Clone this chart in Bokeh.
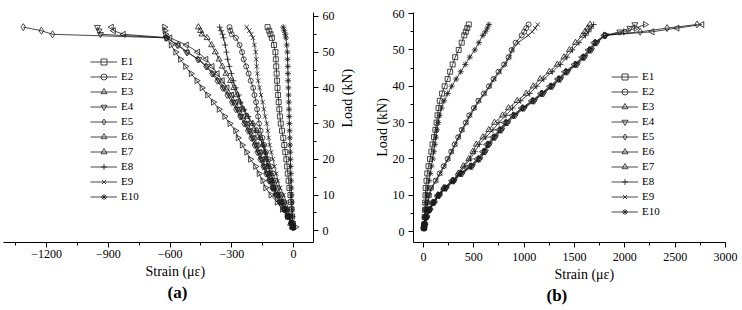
import math
from bokeh.plotting import figure
from bokeh.layouts import row
from bokeh.models import Legend, LegendItem, Range1d, SingleIntervalTicker, Title
from bokeh.embed import file_html
from bokeh.resources import INLINE

FONT = "Liberation Serif"

# ---------------- data ----------------
loads = [1, 2, 4, 6, 8, 10, 12, 14, 16, 18, 20, 22, 24, 26, 28, 30, 32, 34, 36, 38,
         40, 42, 44, 46, 48, 50, 52, 54, 55, 56, 57]
names = ["E1", "E2", "E3", "E4", "E5", "E6", "E7", "E8", "E9", "E10"]

# (a) strain of each gauge (micro-strain), compressive
a_E1 = [-2, -4, -7, -10, -12, -15, -20, -24, -28, -31, -35, -40, -45, -50, -56, -62, -66, -69, -72, -75,
        -78, -80, -82, -84, -86, -88, -95, -105, -112, -118, -126]
a_E2 = [-4, -10, -20, -32, -45, -58, -75, -88, -100, -110, -122, -134, -143, -151, -160, -167, -172, -177, -182, -190,
        -196, -208, -218, -230, -242, -250, -262, -280, -300, -307, -311]
a_E3 = [-6, -14, -27, -42, -58, -75, -95, -105, -115, -125, -135, -140, -150, -162, -178, -198, -225, -245, -262, -275,
        -290, -306, -328, -346, -362, -380, -398, -420, -445, -452, -462]
a_E4 = [-3, -10, -28, -45, -65, -85, -100, -115, -128, -142, -155, -168, -182, -198, -215, -232, -255, -272, -292, -312,
        -338, -362, -390, -420, -460, -520, -565, -617, -938, -945, -953]
a_E5 = [-4, -12, -30, -48, -68, -88, -104, -120, -134, -148, -162, -176, -190, -206, -222, -240, -260, -280, -300, -322,
        -345, -370, -396, -425, -465, -515, -560, -617, -1171, -1225, -1313]
a_E6 = [-2, -8, -25, -42, -60, -80, -96, -110, -124, -137, -150, -162, -176, -190, -206, -222, -242, -262, -282, -300,
        -322, -345, -370, -395, -425, -465, -520, -600, -826, -874, -884]
a_E7 = [10, -5, -30, -55, -80, -110, -136, -150, -168, -185, -210, -228, -250, -270, -282, -310, -335, -362, -390, -418,
        -445, -470, -498, -525, -550, -573, -595, -617, -622, -625, -627]
a_E8 = [-5, -12, -24, -38, -52, -68, -88, -98, -110, -120, -128, -138, -148, -165, -185, -200, -220, -240, -257, -266,
        -280, -292, -302, -312, -320, -326, -332, -340, -345, -352, -359]
a_E9 = [-5, -10, -18, -26, -35, -48, -65, -76, -84, -92, -100, -108, -116, -121, -125, -130, -138, -144, -150, -158,
        -165, -172, -176, -179, -181, -184, -190, -197, -205, -215, -228]
a_E10 = [-1, -3, -5, -7, -8, -10, -11, -12, -13, -14, -15, -16, -17, -18, -19, -20, -21, -22, -23, -24,
         -25, -26, -27, -28, -29, -30, -33, -37, -40, -45, -50]

# (b) strain of each gauge (micro-strain), tensile
b_E1 = [5, 8, 12, 15, 18, 20, 22, 30, 38, 50, 65, 78, 90, 105, 118, 130, 140, 150, 162, 185,
        210, 240, 265, 290, 315, 350, 380, 405, 420, 435, 450]
b_E2 = [3, 8, 15, 25, 40, 55, 75, 120, 160, 200, 240, 275, 310, 345, 380, 420, 455, 500, 545, 600,
        650, 695, 745, 800, 845, 875, 915, 975, 1000, 1020, 1045]
b_E3 = [5, 10, 25, 50, 90, 140, 200, 290, 345, 395, 450, 490, 525, 590, 650, 705, 785, 845, 930, 1020,
        1090, 1160, 1250, 1330, 1395, 1450, 1510, 1580, 1605, 1630, 1655]
b_E4 = [6, 14, 33, 64, 108, 160, 228, 305, 385, 485, 560, 615, 655, 715, 778, 838, 912, 1002, 1102, 1192,
        1282, 1362, 1432, 1528, 1602, 1668, 1722, 1810, 1950, 2050, 2100]
b_E5 = [5, 12, 30, 60, 100, 150, 215, 290, 370, 470, 545, 600, 640, 700, 760, 820, 895, 985, 1085, 1175,
        1265, 1345, 1415, 1510, 1585, 1650, 1705, 1800, 2153, 2420, 2718]
b_E6 = [4, 10, 27, 56, 95, 144, 208, 282, 362, 460, 535, 590, 630, 690, 750, 810, 885, 975, 1075, 1165,
        1255, 1335, 1405, 1500, 1575, 1640, 1695, 1795, 2272, 2520, 2767]
b_E7 = [5, 13, 31, 62, 103, 154, 220, 296, 376, 476, 552, 606, 646, 706, 766, 826, 902, 992, 1092, 1182,
        1272, 1352, 1422, 1516, 1592, 1656, 1712, 1805, 2004, 2110, 2202]
b_E8 = [5, 12, 28, 55, 95, 150, 210, 300, 360, 410, 465, 510, 555, 620, 690, 750, 820, 885, 965, 1055,
        1125, 1195, 1280, 1360, 1425, 1480, 1545, 1610, 1640, 1665, 1690]
b_E9 = [4, 10, 18, 30, 45, 62, 82, 128, 168, 208, 248, 283, 318, 352, 388, 428, 465, 510, 555, 610,
        660, 705, 758, 812, 855, 885, 940, 1040, 1080, 1110, 1135]
b_E10 = [2, 5, 10, 15, 22, 30, 42, 55, 68, 80, 92, 103, 113, 123, 133, 145, 160, 180, 205, 240,
         280, 325, 370, 415, 460, 510, 550, 590, 615, 635, 650]

a_series = [a_E1, a_E2, a_E3, a_E4, a_E5, a_E6, a_E7, a_E8, a_E9, a_E10]
b_series = [b_E1, b_E2, b_E3, b_E4, b_E5, b_E6, b_E7, b_E8, b_E9, b_E10]

x_label = "Strain (με)"
y_label = "Load (kN)"

# marker style per gauge: (marker, angle, size)
styles = [("square", 0, 5), ("circle", 0, 5), ("triangle", 0, 6), ("inverted_triangle", 0, 6),
          ("diamond", 0, 7), ("triangle", math.pi / 2, 6), ("triangle", -math.pi / 2, 6),
          ("cross", 0, 6), ("x", 0, 6), ("asterisk", 0, 6)]


def style_axis(ax, interval, standoff):
    ax.ticker = SingleIntervalTicker(interval=interval, num_minor_ticks=2)
    ax.axis_line_color = "black"
    ax.axis_line_width = 1
    ax.major_tick_line_color = "black"
    ax.minor_tick_line_color = "black"
    ax.major_tick_in = 0
    ax.major_tick_out = 5
    ax.minor_tick_in = 0
    ax.minor_tick_out = 3
    ax.major_label_text_font = FONT
    ax.major_label_text_font_size = "12px"
    ax.major_label_text_color = "black"
    ax.major_label_standoff = standoff
    ax.axis_label_text_font = FONT
    ax.axis_label_text_font_size = "14px"
    ax.axis_label_text_font_style = "normal"
    ax.axis_label_text_color = "black"


def make_fig(series, xr, yr, yloc, borders, xint, xstand, legend_xy,
             ylab_standoff, strain_offset, tag, tag_offset):
    p = figure(width=371, height=310, x_range=Range1d(*xr), y_range=Range1d(*yr),
               y_axis_location=yloc, output_backend="svg", toolbar_location=None,
               min_border_left=borders[0], min_border_right=borders[1],
               min_border_top=borders[2], min_border_bottom=borders[3])
    p.outline_line_color = None
    p.grid.visible = False
    p.background_fill_color = "white"
    p.border_fill_color = "white"
    style_axis(p.xaxis[0], xint, xstand)
    style_axis(p.yaxis[0], 10, 4)

    yax = p.yaxis[0]
    yax.axis_label = y_label
    yax.axis_label_standoff = ylab_standoff
    if yloc == "right" and "axis_label_orientation" in yax.properties():
        yax.axis_label_orientation = math.pi / 2

    items = []
    for name, xs, (mk, ang, sz) in zip(names, series, styles):
        ln = p.line(xs, loads, line_color="#1a1a1a", line_width=0.8)
        sc = p.scatter(xs, loads, marker=mk, angle=ang, size=sz, line_color="#1a1a1a",
                       line_width=0.8, fill_color=None)
        items.append(LegendItem(label=name, renderers=[ln, sc]))

    leg = Legend(items=items, location=legend_xy, glyph_width=27, glyph_height=15,
                 label_height=15, spacing=0, padding=0, margin=0, label_standoff=4,
                 border_line_color=None, background_fill_alpha=0,
                 label_text_font=FONT, label_text_font_size="11px", label_text_color="black")
    p.add_layout(leg)

    p.add_layout(Title(text=x_label, align="left", offset=strain_offset, standoff=2,
                       text_font=FONT, text_font_size="14px", text_font_style="normal",
                       text_color="black"), "below")
    p.add_layout(Title(text=tag, align="left", offset=tag_offset, standoff=2,
                       text_font=FONT, text_font_size="17px", text_font_style="bold",
                       text_color="black"), "below")
    return p


pa = make_fig(a_series, (-1409, 97), (-3.3, 61.1), "right", (3, 58, 8, 68), 300, 2, (87, 38.5),
              10, 142, "(a)", 164)
pb = make_fig(b_series, (-99, 3000), (-3.0, 60.3), "left", (42, 17, 12, 65), 500, 5, (198, 23.5),
              0, 141, "(b)", 133)

layout = row(pa, pb)
open("out.html", "w").write(file_html(layout, INLINE))
